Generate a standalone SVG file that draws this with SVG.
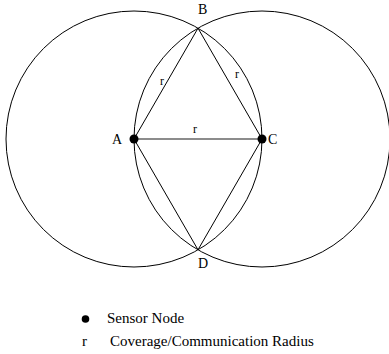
<svg xmlns="http://www.w3.org/2000/svg" width="389" height="354" viewBox="0 0 389 354">
<style>
text{font-family:"Liberation Serif","Times New Roman",serif;fill:#000}
.lbl{font-size:14px}
.r{font-size:12px}
.leg{font-size:15px}
.circ{fill:none;stroke:#000;stroke-width:1}
.edge{stroke:#000;stroke-width:1;fill:none}
.edge-r{stroke:#666;stroke-width:1.6;fill:none}
.dot{fill:#000}
</style>
<rect width="389" height="354" fill="#fff"/>
<g id="coverage">
<circle class="circ" cx="134" cy="139" r="128"/>
<circle class="circ" cx="262" cy="139" r="128"/>
</g>
<g id="connectors">
<line class="edge" x1="134" y1="139" x2="198" y2="28.2"/>
<line class="edge" x1="198" y1="28.2" x2="262" y2="139"/>
<line class="edge" x1="262" y1="139" x2="198" y2="249.8"/>
<line class="edge" x1="198" y1="249.8" x2="134" y2="139"/>
<line class="edge-r" x1="134" y1="139" x2="262" y2="139"/>
<text class="r" x="160" y="85">r</text>
<text class="r" x="235" y="78">r</text>
<text class="r" x="193" y="133">r</text>
</g>
<g id="nodeA">
<circle class="dot" cx="134" cy="139" r="4.5"/>
<text class="lbl" x="112" y="144">A</text>
</g>
<g id="nodeB">
<text class="lbl" x="198" y="13.5">B</text>
</g>
<g id="nodeC">
<circle class="dot" cx="262" cy="139" r="4.5"/>
<text class="lbl" x="268" y="144">C</text>
</g>
<g id="nodeD">
<text class="lbl" x="198" y="268">D</text>
</g>
<g id="legend">
<circle class="dot" cx="85.5" cy="319" r="3.8"/>
<text class="leg" x="107" y="323">Sensor Node</text>
<text class="leg" x="82" y="346">r</text>
<text class="leg" x="110" y="346">Coverage/Communication Radius</text>
</g>
</svg>
